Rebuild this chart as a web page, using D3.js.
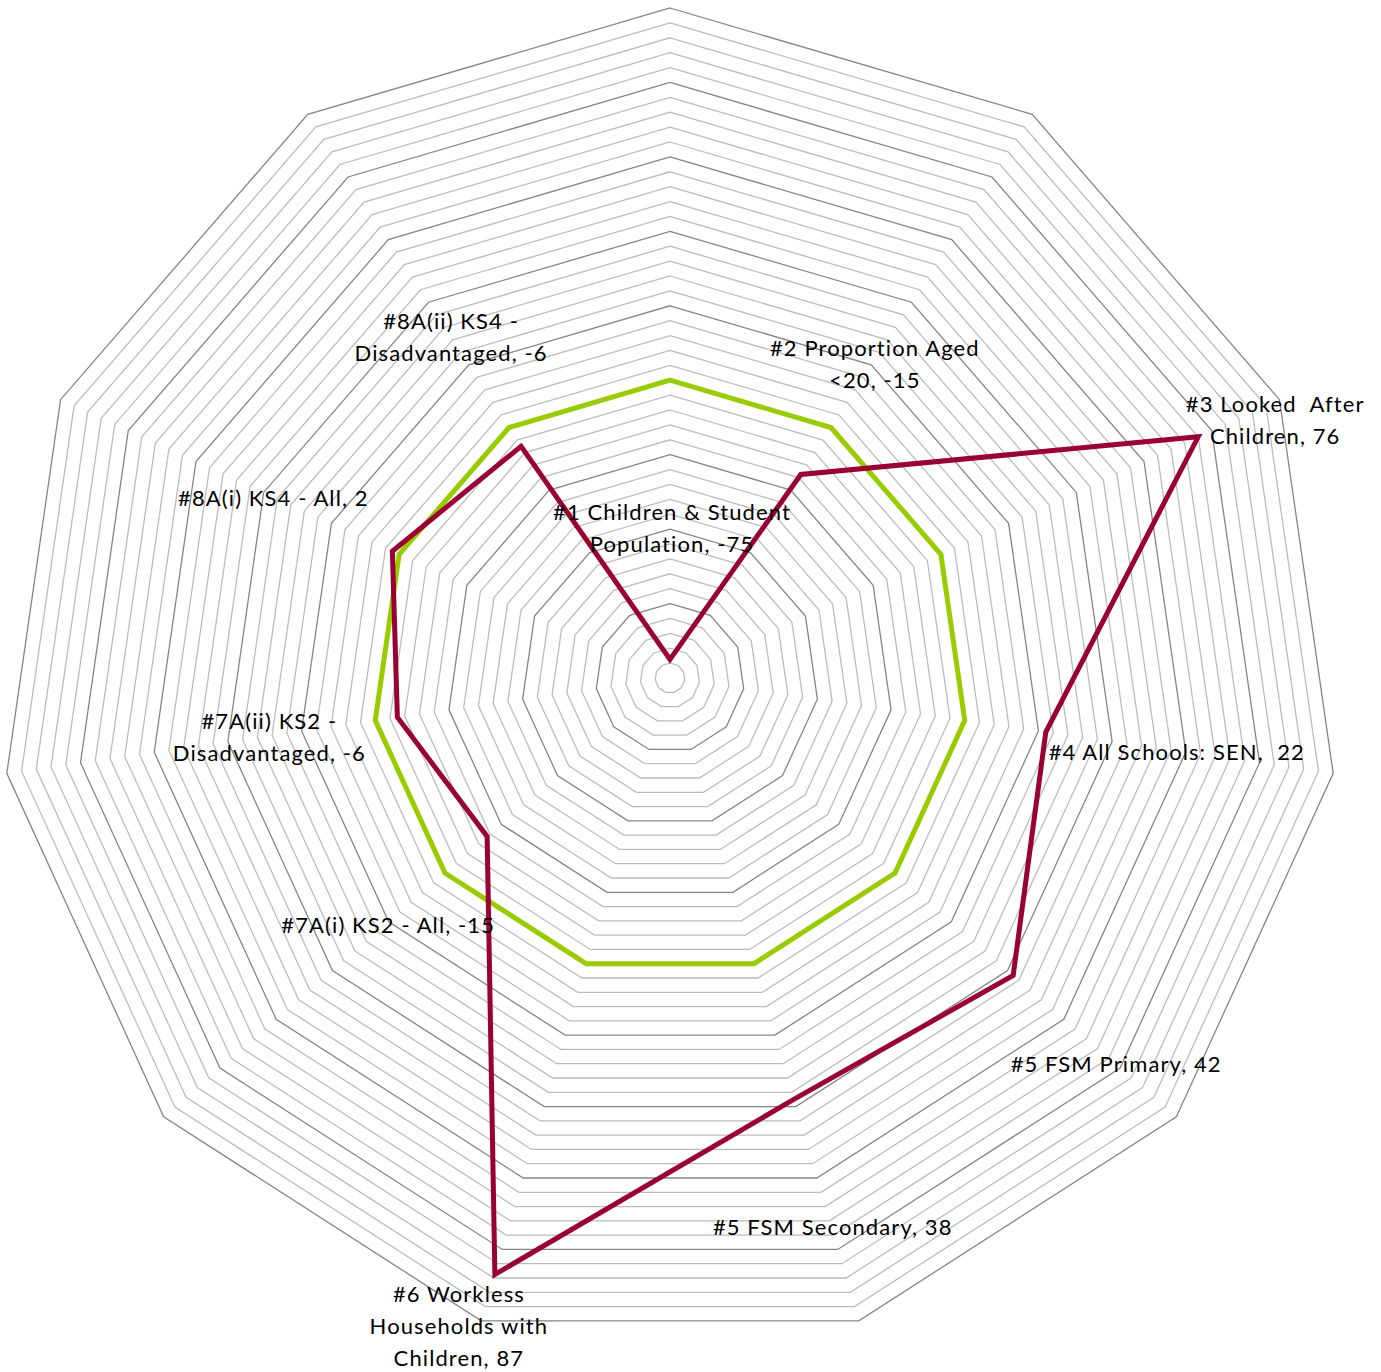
<!DOCTYPE html>
<html>
<head>
<meta charset="utf-8">
<script src="https://cdn.jsdelivr.net/npm/d3@7"></script>
<style>
  html, body { margin: 0; padding: 0; background: #ffffff; }
  svg { display: block; }
  .lbl { font-family: Lato, "Open Sans", sans-serif; font-size: 22px; fill: #000; letter-spacing: 1.1px; }
</style>
</head>
<body>
<div id="chart"></div>
<script>
// ---------- data ----------
const categories = [
  "#1 Children & Student Population",
  "#2 Proportion Aged <20",
  "#3 Looked After Children",
  "#4 All Schools: SEN",
  "#5 FSM Primary",
  "#5 FSM Secondary",
  "#6 Workless Households with Children",
  "#7A(i) KS2 - All",
  "#7A(ii) KS2 - Disadvantaged",
  "#8A(i) KS4 - All",
  "#8A(ii) KS4 - Disadvantaged"
];
const localValues = [-75, -15, 76, 22, 42, 38, 87, -15, -6, 2, -6];
const baselineValues = [0, 0, 0, 0, 0, 0, 0, 0, 0, 0, 0];
const labelLines = [
  ["#1 Children & Student", "Population, -75"],
  ["#2 Proportion Aged", "<20, -15"],
  ["#3 Looked  After", "Children, 76"],
  ["#4 All Schools: SEN,  22"],
  ["#5 FSM Primary, 42"],
  ["#5 FSM Secondary, 38"],
  ["#6 Workless", "Households with", "Children, 87"],
  ["#7A(i) KS2 - All, -15"],
  ["#7A(ii) KS2 -", "Disadvantaged, -6"],
  ["#8A(i) KS4 - All, 2"],
  ["#8A(ii) KS4 -", "Disadvantaged, -6"]
];
const valueMin = -80, valueMax = 100;
const majorTicks = [-60, -40, -20, 0, 20, 40, 60, 80, 100];
const minorStep = 4;

// ---------- layout ----------
const W = 1381, H = 1372;
const cx = 670, cy = 678, R = 670;
// label block centre offsets from the data point (px)
const labelOffsets = [
  [2, -131], [74, -110], [77, -17], [131, 20], [103, 89], [39, 128],
  [-36, 52], [-99, 89], [-128, 20], [-119, -53], [-70, -109]
];
const lineH = 32;

const svg = d3.select("#chart").append("svg")
  .attr("width", W).attr("height", H);
const g = svg.append("g").attr("transform", `translate(${cx},${cy})`);

const n = categories.length;
const angle = d3.scaleLinear().domain([0, n]).range([0, 2 * Math.PI]);
const r = d3.scaleLinear().domain([valueMin, valueMax]).range([0, R]);

const ring = d3.lineRadial()
  .angle((d, i) => angle(i))
  .radius(d => r(d))
  .curve(d3.curveLinearClosed);

// grid
const allTicks = d3.range(valueMin + minorStep, valueMax + 0.001, minorStep);
const minorTicks = allTicks.filter(t => !majorTicks.includes(t));
g.append("g").selectAll("path").data(minorTicks).join("path")
  .attr("d", t => ring(categories.map(() => t)))
  .attr("fill", "none").attr("stroke", "#BCBCBC").attr("stroke-width", 1.3);
g.append("g").selectAll("path").data(majorTicks).join("path")
  .attr("d", t => ring(categories.map(() => t)))
  .attr("fill", "none").attr("stroke", "#858585").attr("stroke-width", 1.3);

// series
g.append("path").attr("d", ring(baselineValues))
  .attr("fill", "none").attr("stroke", "#99CC00").attr("stroke-width", 5)
  .attr("stroke-linejoin", "miter");
g.append("path").attr("d", ring(localValues))
  .attr("fill", "none").attr("stroke", "#990033").attr("stroke-width", 5)
  .attr("stroke-linejoin", "miter");

// labels
const pt = (v, i) => {
  const a = angle(i), rr = r(v);
  return [rr * Math.sin(a), -rr * Math.cos(a)];
};
const lbl = g.append("g");
categories.forEach((c, i) => {
  const [px, py] = pt(localValues[i], i);
  const [ox, oy] = labelOffsets[i];
  const lines = labelLines[i];
  const x0 = px + ox, yc = py + oy;
  const t = lbl.append("text").attr("class", "lbl").attr("text-anchor", "middle")
    .attr("xml:space", "preserve");
  lines.forEach((ln, j) => {
    const y = yc + (j - (lines.length - 1) / 2) * lineH;
    t.append("tspan").attr("x", x0).attr("y", y + 8).text(ln);
  });
});
</script>
</body>
</html>
